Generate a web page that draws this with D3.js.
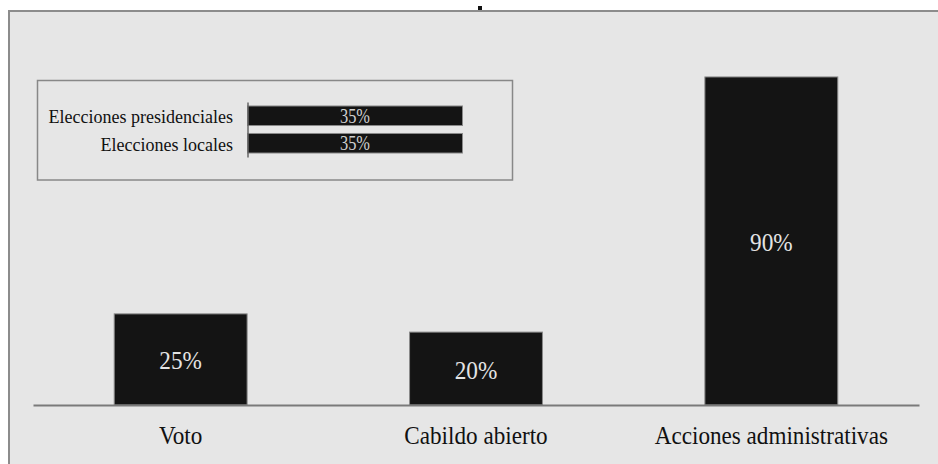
<!DOCTYPE html>
<html>
<head>
<meta charset="utf-8">
<script src="https://cdn.jsdelivr.net/npm/d3@7"></script>
<style>
  html, body { margin: 0; padding: 0; background: #ffffff; }
  svg { display: block; }
</style>
</head>
<body>
<svg id="chart" width="938" height="464"></svg>
<script>
// ---- data ----
const categories = ["Voto", "Cabildo abierto", "Acciones administrativas"];
const values = [25, 20, 90];
const valueLabels = ["25%", "20%", "90%"];

const insetCategories = ["Elecciones presidenciales", "Elecciones locales"];
const insetValues = [35, 35];
const insetLabels = ["35%", "35%"];

const FONT = "'Liberation Serif', 'Times New Roman', Times, serif";

// ---- drawing ----
const svg = d3.select("#chart").attr("font-family", FONT);

// outer panel
svg.append("rect")
  .attr("x", 9).attr("y", 11)
  .attr("width", 960).attr("height", 480)
  .attr("fill", "#e6e6e6")
  .attr("stroke", "#8c8c8c").attr("stroke-width", 2);

// small mark above the panel
svg.append("rect")
  .attr("x", 478).attr("y", 6).attr("width", 4).attr("height", 4)
  .attr("fill", "#111");

// main chart scales
const x = d3.scaleBand().domain(categories).range([33, 919])
  .paddingInner(0.55).paddingOuter(0.275);
const y = d3.scaleLinear().domain([0, 100]).range([405, 40.5]);

// bars
svg.append("g").selectAll("rect").data(values).join("rect")
  .attr("x", (d, i) => x(categories[i]))
  .attr("y", d => y(d))
  .attr("width", x.bandwidth())
  .attr("height", d => y(0) - y(d))
  .attr("fill", "#141414")
  .attr("stroke", "#8a8a8a").attr("stroke-width", 1);

// baseline axis
const xAxis = d3.axisBottom(x).tickSize(0).tickPadding(0).tickFormat("");
const gx = svg.append("g").attr("transform", `translate(0,${y(0)})`).call(xAxis);
gx.select(".domain").attr("stroke", "#7a7a7a").attr("stroke-width", 2);

// value labels
svg.append("g").selectAll("text").data(values).join("text")
  .attr("transform", (d, i) => `translate(${x(categories[i]) + x.bandwidth() / 2},${(y(d) + y(0)) / 2 + 10}) scale(0.93,1)`)
  .attr("text-anchor", "middle")
  .attr("font-family", FONT)
  .attr("font-size", 25)
  .attr("fill", "#e4e4e4")
  .text((d, i) => valueLabels[i]);

// category labels
svg.append("g").selectAll("text").data(categories).join("text")
  .attr("transform", d => `translate(${x(d) + x.bandwidth() / 2},444) scale(0.89,1)`)
  .attr("text-anchor", "middle")
  .attr("font-family", FONT)
  .attr("font-size", 26)
  .attr("fill", "#111")
  .text(d => d);

// ---- inset ----
svg.append("rect")
  .attr("x", 37.5).attr("y", 80.5).attr("width", 475).attr("height", 99.5)
  .attr("fill", "none").attr("stroke", "#888").attr("stroke-width", 1.5);

const ix = d3.scaleLinear().domain([0, 35]).range([247.5, 462.5]);
const iy = d3.scaleBand().domain(insetCategories).range([102, 157])
  .paddingInner(0.29).paddingOuter(0.145);

svg.append("g").selectAll("rect").data(insetValues).join("rect")
  .attr("x", ix(0))
  .attr("y", (d, i) => iy(insetCategories[i]))
  .attr("width", d => ix(d) - ix(0))
  .attr("height", iy.bandwidth())
  .attr("fill", "#141414")
  .attr("stroke", "#8a8a8a").attr("stroke-width", 1);

const iAxis = d3.axisLeft(iy).tickSize(0).tickPadding(0).tickFormat("");
const gi = svg.append("g").attr("transform", `translate(${ix(0)},0)`).call(iAxis);
gi.select(".domain").attr("stroke", "#666").attr("stroke-width", 1.5);

svg.append("g").selectAll("text").data(insetCategories).join("text")
  .attr("x", 233)
  .attr("y", d => iy(d) + iy.bandwidth() / 2 + 7.5)
  .attr("text-anchor", "end")
  .attr("font-family", FONT)
  .attr("font-size", 18)
  .attr("fill", "#111")
  .text(d => d);

svg.append("g").selectAll("text").data(insetValues).join("text")
  .attr("transform", (d, i) => `translate(${(ix(0) + ix(d)) / 2},${iy(insetCategories[i]) + iy.bandwidth() / 2 + 7}) scale(0.82,1)`)
  .attr("text-anchor", "middle")
  .attr("font-family", FONT)
  .attr("font-size", 20)
  .attr("fill", "#cfcfcf")
  .text((d, i) => insetLabels[i]);
</script>
</body>
</html>
